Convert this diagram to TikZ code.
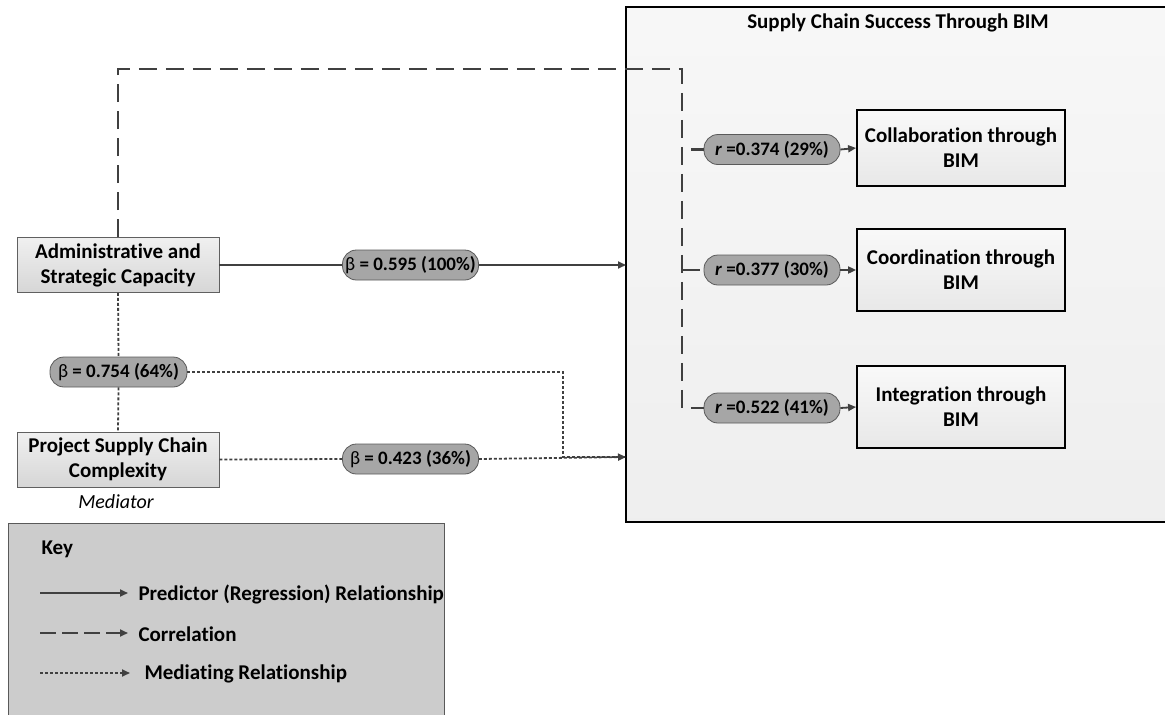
\documentclass[tikz,border=0pt]{standalone}
\usepackage{fontspec}
\setmainfont{Carlito}[Ligatures=NoCommon]
\usetikzlibrary{arrows.meta}
\definecolor{linegray}{HTML}{404040}
\definecolor{pillfill}{HTML}{A6A6A6}
\definecolor{pilledge}{HTML}{5A5A5A}
\newcommand{\bet}{{\mdseries β}}
\begin{document}
\begin{tikzpicture}[x=1pt,y=-1pt,
  txt/.style={font=\fontsize{21}{25}\selectfont\bfseries},
  varbox/.style={txt, draw=gray!75!black, line width=0.8pt, top color=gray!12, bottom color=gray!32,
    align=center, inner sep=0pt, minimum width=202pt, minimum height=55pt},
  outbox/.style={txt, draw=black, line width=1.8pt, top color=gray!5, bottom color=gray!18,
    align=center, inner sep=0pt, minimum width=208pt},
  pill/.style={font=\fontsize{19}{21}\selectfont\bfseries, draw=pilledge, line width=0.8pt, fill=pillfill,
    rounded corners=14pt, inner sep=0pt, minimum width=136pt, minimum height=30pt},
  conn/.style={draw=linegray, line width=1.8pt},
  tip/.style={-{Triangle[length=8pt,width=7pt]}},
  corr/.style={conn, line width=2.2pt, dash pattern=on 18pt off 9pt},
  medi/.style={conn, line width=1.8pt, dash pattern=on 3pt off 2pt},
]
\useasboundingbox (0,0) rectangle (1165,715);
\clip (0,0) rectangle (1165,715);

% outcome panel
\draw[line width=1.8pt, draw=black, top color=gray!6, bottom color=gray!13] (626,7) rectangle (1180,522);
\node[txt] (title) at (898,23) {Supply Chain Success Through BIM};

% outcome boxes
\node[outbox, minimum height=76pt] (collab) at (961,148) {Collaboration through\\BIM};
\node[outbox, minimum height=82pt] (coord) at (961,270) {Coordination through\\BIM};
\node[outbox, minimum height=82pt] (integ) at (961,407) {Integration through\\BIM};

% predictor and mediator
\node[varbox] (admin) at (118,265) {Administrative and\\Strategic Capacity};
\node[varbox] (pscc) at (118,459.5) {Project Supply Chain\\Complexity};
\node[font=\fontsize{20}{24}\selectfont\itshape] (medlab) at (116,502) {Mediator};

% correlation labels
\node[pill] (r1) at (772,149.5) {\textit{r} =0.374 (29\%)};
\node[pill] (r2) at (772,270) {\textit{r} =0.377 (30\%)};
\node[pill] (r3) at (772,408) {\textit{r} =0.522 (41\%)};

% regression and mediation labels
\node[pill] (b1) at (410.5,265) {\bet{} = 0.595 (100\%)};
\node[pill, minimum width=137pt] (b2) at (118.5,372) {\bet{} = 0.754 (64\%)};
\node[pill] (b3) at (410.5,459) {\bet{} = 0.423 (36\%)};

\coordinate (panelA) at (626,265);
\coordinate (panelB) at (626,457);
\coordinate (ctop) at (682,69);
\coordinate (cbot) at (682,408);

% regression path
\draw[conn] (admin.east) -- (b1.west);
\draw[conn, tip] (b1.east) -- (panelA);

% mediation paths
\draw[medi] (admin.south) -- (b2.north);
\draw[medi] (b2.south) -- (pscc.north);
\draw[medi] (b2.east) -- (563,372) -- (563,457) -- (panelB);
\draw[medi] (pscc.east) -- (b3.west);
\draw[medi, tip] (b3.east) -- (panelB);

% correlation paths
\draw[corr] (admin.north) |- (ctop) -- (cbot) -- (r3.west);
\draw[corr] (682,270) -- (r2.west);
\draw[corr, dash phase=18pt] (682,149.5) -- (r1.west);
\draw[conn, tip] (r1.east) -- (collab.west);
\draw[conn, tip] (r2.east) -- (coord.west);
\draw[conn, tip] (r3.east) -- (integ.west);

% key
\draw[draw=gray!70!black, line width=1pt, fill=gray!40] (8,523) rectangle (444,730);
\node[txt, anchor=base west] (keyt) at (38,554) {Key};
\coordinate (k1a) at (40,593); \coordinate (k1b) at (128,593);
\coordinate (k2a) at (40,633); \coordinate (k2b) at (128,633);
\coordinate (k3a) at (40,673); \coordinate (k3b) at (130,673);
\draw[conn, tip] (k1a) -- (k1b);
\draw[conn, tip, dash pattern=on 16pt off 6pt] (k2a) -- (k2b);
\draw[medi, tip] (k3a) -- (k3b);
\node[txt, anchor=west] (kl1) at (135,594) {Predictor (Regression) Relationship};
\node[txt, anchor=west] (kl2) at (135,634) {Correlation};
\node[txt, anchor=west] (kl3) at (141,674) {Mediating Relationship};
\end{tikzpicture}
\end{document}
